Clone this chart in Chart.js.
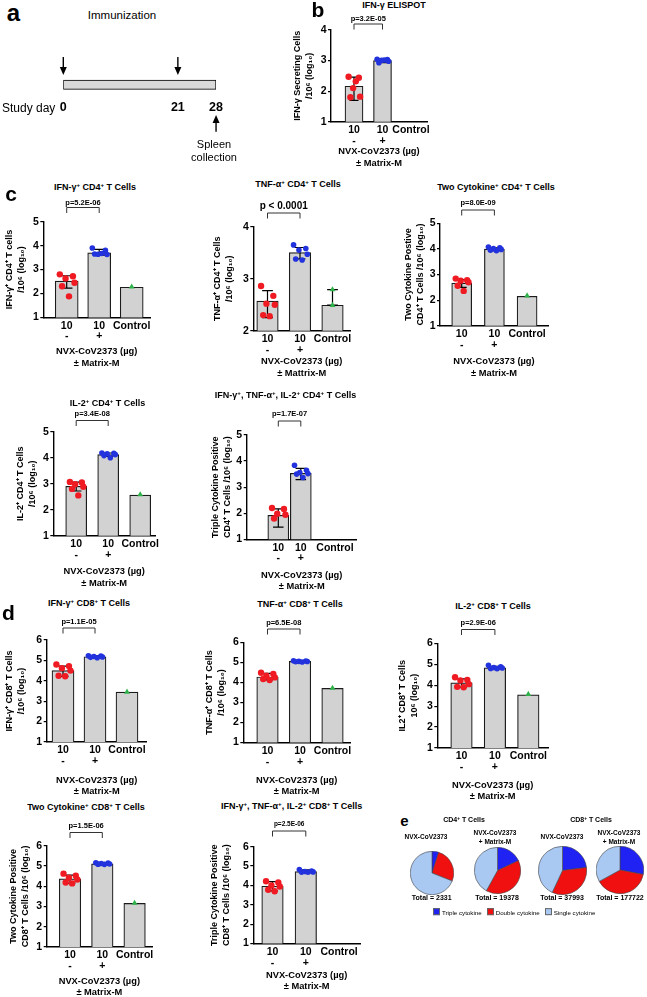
<!DOCTYPE html>
<html>
<head>
<meta charset="utf-8">
<title>NVX-CoV2373 T cell responses</title>
<script src="https://cdn.jsdelivr.net/npm/chart.js@4.4.1/dist/chart.umd.min.js"></script>
<style>
  html, body { margin: 0; padding: 0; background: #fff; }
  body { position: relative; width: 647px; height: 997px; overflow: hidden; font-family: "Liberation Sans", Arial, sans-serif; color: #000; }
  canvas { position: absolute; }
  .t { position: absolute; white-space: nowrap; font-weight: bold; line-height: 1; transform: translate(-50%, -50%); }
  .t sup { font-size: 0.68em; position: relative; top: -0.5em; vertical-align: baseline; line-height: 0; }
  .sq { display: inline-block; width: 5px; height: 5px; margin: 0 2px 0 5px; border: 0.5px solid #666; vertical-align: -0.5px; }
</style>
</head>
<body>
<script>
const FONT = '"Liberation Sans", Arial, sans-serif';
Chart.defaults.font.family = FONT;
Chart.defaults.color = '#000';

// shared group labels
const groupDose = ['10', '10', 'Control'];
const groupAdjuvant = ['-', '+', ''];
const xTitle = ['NVX-CoV2373 (µg)', '± Matrix-M'];

// a: immunization schedule
const studyDays = [0, 21, 28];
const immunizationDays = [0, 21];
const collectionDay = 28;

// b: IFN-γ ELISPOT
const bYTicks = [1, 2, 3, 4];
const bMeans = [2.16, 3.00, null];
const bErr = [[1.70, 2.46], [2.93, 3.06], null];
const bRed = [2.47, 2.44, 2.10, 1.82, 1.80, 2.32];
const bBlue = [3.04, 3.03, 3.01, 2.98, 2.93, 3.02];
const bGreen = [];

// c: CD4+ T cells
const c1YTicks = [1, 2, 3, 4, 5];
const c1Means = [2.52, 3.70, 2.26];
const c1Err = [[2.22, 2.74], [3.60, 3.84], null];
const c1Red = [2.80, 2.72, 2.63, 2.45, 2.30, 1.88];
const c1Blue = [3.90, 3.80, 3.64, 3.63, 3.65, 3.67];
const c1Green = [2.28];

const c2YTicks = [2, 3, 4];
const c2Means = [2.57, 3.50, 2.49];
const c2Err = [[2.25, 2.77], [3.38, 3.60], [2.49, 2.79]];
const c2Red = [2.86, 2.67, 2.52, 2.50, 2.30, 2.28];
const c2Blue = [3.65, 3.58, 3.55, 3.47, 3.38, 3.36];
const c2Green = [2.79, 2.49];

const c3YTicks = [1, 2, 3, 4, 5];
const c3Means = [2.66, 3.99, 2.15];
const c3Err = [[2.50, 2.80], [3.93, 4.04], null];
const c3Red = [2.84, 2.78, 2.76, 2.70, 2.56, 2.36];
const c3Blue = [4.07, 4.04, 4.01, 3.98, 3.95, 3.93];
const c3Green = [2.17];

const c4YTicks = [1, 2, 3, 4, 5];
const c4Means = [2.90, 4.12, 2.56];
const c4Err = [[2.72, 3.06], [4.05, 4.18], null];
const c4Red = [3.07, 3.05, 2.98, 2.88, 2.80, 2.55];
const c4Blue = [4.18, 4.17, 4.15, 4.12, 4.08, 4.00];
const c4Green = [2.58];

const c5YTicks = [1, 2, 3, 4, 5];
const c5Means = [1.92, 3.53, null];
const c5Err = [[1.47, 2.17], [3.29, 3.72], null];
const c5Red = [2.20, 2.16, 1.98, 1.94, 1.80];
const c5Blue = [3.84, 3.65, 3.56, 3.52, 3.50, 3.37];
const c5Green = [];

// d: CD8+ T cells
const d1YTicks = [1, 2, 3, 4, 5, 6];
const d1Means = [4.50, 5.18, 3.45];
const d1Err = [[4.22, 4.72], [5.13, 5.24], null];
const d1Red = [4.80, 4.72, 4.62, 4.50, 4.25, 4.22];
const d1Blue = [5.23, 5.21, 5.19, 5.17, 5.15, 5.13];
const d1Green = [3.45];

const d2YTicks = [1, 2, 3, 4, 5, 6];
const d2Means = [4.27, 5.05, 3.70];
const d2Err = [[4.13, 4.45], [5.02, 5.08], null];
const d2Red = [4.48, 4.42, 4.33, 4.25, 4.17, 4.12];
const d2Blue = [5.08, 5.07, 5.05, 5.04, 5.03, 5.02];
const d2Green = [3.72];

const d3YTicks = [1, 2, 3, 4, 5, 6];
const d3Means = [4.11, 4.83, 3.54];
const d3Err = [[3.90, 4.30], [4.78, 4.90], null];
const d3Red = [4.38, 4.25, 4.22, 4.05, 3.92, 3.90];
const d3Blue = [4.95, 4.88, 4.84, 4.82, 4.80, 4.79];
const d3Green = [3.57];

const d4YTicks = [1, 2, 3, 4, 5, 6];
const d4Means = [4.36, 5.10, 3.15];
const d4Err = [[4.15, 4.55], [5.07, 5.15], null];
const d4Red = [4.62, 4.52, 4.42, 4.33, 4.18, 4.14];
const d4Blue = [5.16, 5.14, 5.12, 5.10, 5.09, 5.08];
const d4Green = [3.17];

const d5YTicks = [1, 2, 3, 4, 5, 6];
const d5Means = [3.96, 4.72, null];
const d5Err = [[3.72, 4.20], [4.66, 4.80], null];
const d5Red = [4.22, 4.15, 4.00, 3.95, 3.78, 3.70];
const d5Blue = [4.82, 4.75, 4.72, 4.70, 4.69, 4.68];
const d5Green = [];

// e: cytokine pies (% of responding cells)
const cytokineKinds = ['Triple cytokine', 'Double cytokine', 'Single cytokine'];
const pieTotals = [2331, 19378, 37993, 177722];
const pieTriple = [5, 18, 23, 28];
const pieDouble = [26, 40, 34, 39];
const pieSingle = [69, 42, 43, 33];

const RED = '#ef1a22';
const BLUE = '#2233dd';
const GREEN = '#2fb24a';
const pieColors = ['#1f22f2', '#f01010', '#a9c8f2'];

function addText(html, x, y, size, opts = {}) {
  const el = document.createElement('div');
  el.className = 't';
  el.innerHTML = html;
  el.style.left = x + 'px';
  el.style.top = y + 'px';
  el.style.fontSize = size + 'px';
  if (opts.normal) el.style.fontWeight = 'normal';
  if (opts.left) el.style.transform = 'translate(0, -50%)';
  document.body.appendChild(el);
  return el;
}

function addCanvas(left, top, w, h) {
  const c = document.createElement('canvas');
  c.width = w;
  c.height = h;
  c.style.left = left + 'px';
  c.style.top = top + 'px';
  c.style.width = w + 'px';
  c.style.height = h + 'px';
  document.body.appendChild(c);
  return c;
}

// error bars between bars and points, p value bracket, x title
const marksPlugin = {
  id: 'marks',
  afterDatasetDraw(chart, args, o) {
    if (args.index !== 0) return;
    const { ctx } = chart;
    const x = chart.scales.x, y = chart.scales.y;
    ctx.save();
    ctx.strokeStyle = '#000';
    ctx.lineWidth = 1.2;
    o.err.forEach((e, i) => {
      if (!e) return;
      const px = x.getPixelForValue(o.slots[i]);
      const lo = y.getPixelForValue(e[0]), hi = y.getPixelForValue(e[1]);
      const hw = o.cap / 2;
      ctx.beginPath();
      ctx.moveTo(px, lo); ctx.lineTo(px, hi);
      ctx.moveTo(px - hw, lo); ctx.lineTo(px + hw, lo);
      ctx.moveTo(px - hw, hi); ctx.lineTo(px + hw, hi);
      ctx.stroke();
    });
    ctx.restore();
  },
  afterDraw(chart, args, o) {
    const { ctx, chartArea } = chart;
    const x = chart.scales.x;
    const x0 = x.getPixelForValue(o.slots[0]), x1 = x.getPixelForValue(o.slots[1]);
    ctx.save();
    ctx.strokeStyle = '#333';
    ctx.lineWidth = 1;
    ctx.beginPath();
    ctx.moveTo(x0, o.brY + 5.5); ctx.lineTo(x0, o.brY); ctx.lineTo(x1, o.brY); ctx.lineTo(x1, o.brY + 5.5);
    ctx.stroke();
    ctx.fillStyle = '#000';
    ctx.textAlign = 'center';
    ctx.textBaseline = 'middle';
    ctx.font = `bold ${o.pFont}px ${FONT}`;
    ctx.fillText(o.p, (x0 + x1) / 2, o.pY);
    ctx.font = `bold 9.3px ${FONT}`;
    const cx = o.xtc != null ? o.xtc : (chartArea.left + chartArea.right) / 2;
    ctx.fillText(o.xTitle[0], cx, o.xtY - 11.5);
    ctx.fillText(o.xTitle[1], cx, o.xtY);
    ctx.restore();
  }
};

function barPanel(P) {
  const L = P.lay;
  const slots = L.slots || [0, 1, 2];
  const yLH = 11.8;
  const yFont = 9;
  const left = Math.floor(L.ytx - 8);
  const top = Math.floor(L.pY - 8);
  const W = L.axisX - left;
  const H = L.matrixY + 6 - L.bottom;
  const width = Math.ceil(L.right + 22 - left);
  const height = Math.ceil(L.matrixY + 6 - top);
  const cv = addCanvas(left, top, width, height);
  const spread = L.barW / L.sp;
  const jit = [-0.3, 0.27, -0.05, 0.34, -0.2, 0.1];
  const pts = (vals, slot, j) => vals.map((v, i) => ({ x: slot + (j ? jit[i % jit.length] * spread : 0), y: v }));
  const bars = [];
  P.means.forEach((m, i) => { if (m !== null) bars.push({ x: slots[i], y: m }); });

  new Chart(cv, {
    type: 'bar',
    data: {
      datasets: [
        { type: 'bar', order: 5, data: bars, backgroundColor: '#d2d2d2', borderColor: '#1b1b1b', borderWidth: 1.2, barThickness: L.barW },
        { type: 'scatter', order: 1, data: pts(P.red, slots[0], true), pointRadius: 3.2, backgroundColor: RED, borderColor: RED, borderWidth: 0 },
        { type: 'scatter', order: 1, data: pts(P.blue, slots[1], true), pointRadius: 2.8, backgroundColor: BLUE, borderColor: BLUE, borderWidth: 0 },
        { type: 'scatter', order: 1, data: pts(P.green, slots[2], false), pointRadius: 3.4, pointStyle: 'triangle', backgroundColor: GREEN, borderColor: GREEN, borderWidth: 0 }
      ]
    },
    options: {
      responsive: false,
      animation: false,
      devicePixelRatio: 1,
      layout: { padding: { left: 0, top: L.top - top, right: width - (L.right - left), bottom: 0 } },
      plugins: {
        legend: { display: false },
        tooltip: { enabled: false },
        marks: {
          slots, err: P.err, cap: L.barW * 0.5, p: P.p, pFont: L.pFont || 7.5,
          pY: L.pY - top, brY: L.brY - top, xTitle: P.xTitle || xTitle,
          xtc: L.xtc != null ? L.xtc - left : null, xtY: L.matrixY - top
        }
      },
      scales: {
        x: {
          type: 'linear', offset: false,
          min: -(L.c0 - L.axisX) / L.sp,
          max: (L.right - L.c0) / L.sp,
          afterBuildTicks: s => { s.ticks = slots.map(v => ({ value: v })); },
          afterFit: s => { s.height = H; },
          grid: { display: false, drawTicks: false, tickLength: 0 },
          border: { display: true, color: '#000', width: 1.4 },
          ticks: {
            autoSkip: false, maxRotation: 0, padding: 3, color: '#000',
            font: { size: 10.5, weight: 'bold', lineHeight: 1.02 },
            callback: (v, i) => [groupDose[i], groupAdjuvant[i]]
          }
        },
        y: {
          min: P.yTicks[0],
          max: P.yTicks[P.yTicks.length - 1],
          afterBuildTicks: s => { s.ticks = P.yTicks.map(v => ({ value: v })); },
          afterFit: s => { s.width = W; },
          grid: { drawOnChartArea: false, drawTicks: true, tickLength: 3, color: '#000', lineWidth: 1.2 },
          border: { display: true, color: '#000', width: 1.4 },
          ticks: { padding: 1.5, color: '#000', font: { size: 10.5, weight: 'bold' } },
          title: {
            display: true, text: P.yTitle, color: '#000',
            font: { size: yFont, weight: 'bold', lineHeight: yLH / yFont },
            padding: { top: L.ytx - left - yLH / 2, bottom: 0 }
          }
        }
      }
    },
    plugins: [marksPlugin]
  });
  addText(P.title, P.tx, P.ty, 9);
}

const panels = [
  { title: 'IFN-γ ELISPOT', tx: 394, ty: 5, p: 'p=3.2E-05',
    yTitle: ['IFN-γ Secreting Cells', '/10⁶ (log₁₀)'], yTicks: bYTicks,
    means: bMeans, err: bErr, red: bRed, blue: bBlue, green: bGreen,
    lay: { ytx: 297.7, axisX: 331, right: 427, top: 30, bottom: 121.7, c0: 354, sp: 28.5, barW: 18, pY: 19, brY: 24, matrixY: 163 } },
  { title: 'IFN-γ<sup>+</sup> CD4<sup>+</sup> T Cells', tx: 95, ty: 187, p: 'p=5.2E-06',
    yTitle: ['IFN-γ⁺ CD4⁺ T cells', '/10⁶ (log₁₀)'], yTicks: c1YTicks,
    means: c1Means, err: c1Err, red: c1Red, blue: c1Blue, green: c1Green,
    lay: { ytx: 10, axisX: 43.3, right: 150, top: 221.7, bottom: 316.7, c0: 66.7, sp: 32.5, barW: 23, pY: 203, brY: 207.5, matrixY: 363.3 } },
  { title: 'TNF-α<sup>+</sup> CD4<sup>+</sup> T Cells', tx: 298, ty: 184, p: 'p < 0.0001',
    yTitle: ['TNF-α⁺ CD4⁺ T Cells', '/10⁶ (log₁₀)'], yTicks: c2YTicks, xTitle: ['NVX-CoV2373 (µg)', '± Mattrix-M'],
    means: c2Means, err: c2Err, red: c2Red, blue: c2Blue, green: c2Green,
    lay: { ytx: 218, axisX: 253.3, right: 350, top: 226.7, bottom: 330, c0: 267.5, sp: 32.5, barW: 21.5, pY: 206.7, brY: 213, matrixY: 373.3, pFont: 10 } },
  { title: 'Two Cytokine<sup>+</sup> CD4<sup>+</sup> T Cells', tx: 496, ty: 187, p: 'p=8.0E-09',
    yTitle: ['Two Cytokine Postive', 'CD4⁺ T Cells /10⁶ (log₁₀)'], yTicks: c3YTicks,
    means: c3Means, err: c3Err, red: c3Red, blue: c3Blue, green: c3Green,
    lay: { ytx: 408.5, axisX: 440, right: 548, top: 223.3, bottom: 325, c0: 461.7, sp: 32.7, barW: 20, pY: 203, brY: 210, matrixY: 373.3 } },
  { title: 'IL-2<sup>+</sup> CD4<sup>+</sup> T Cells', tx: 107.5, ty: 403, p: 'p=3.4E-08',
    yTitle: ['IL-2⁺ CD4⁺ T Cells', '/10⁶ (log₁₀)'], yTicks: c4YTicks,
    means: c4Means, err: c4Err, red: c4Red, blue: c4Blue, green: c4Green,
    lay: { ytx: 21, axisX: 53.3, right: 155, top: 431.7, bottom: 535, c0: 76.2, sp: 32, barW: 21, pY: 414, brY: 420.5, matrixY: 583.3 } },
  { title: 'IFN-γ<sup>+</sup>, TNF-α<sup>+</sup>, IL-2<sup>+</sup> CD4<sup>+</sup> T Cells', tx: 285.5, ty: 395, p: 'p=1.7E-07',
    yTitle: ['Triple Cytokine Positive', 'CD4⁺ T Cells /10⁶ (log₁₀)'], yTicks: c5YTicks,
    means: c5Means, err: c5Err, red: c5Red, blue: c5Blue, green: c5Green,
    lay: { ytx: 215.7, axisX: 246.7, right: 356.7, top: 435, bottom: 539, c0: 278.3, sp: 22.5, slots: [0, 1, 2.52], barW: 21, pY: 414, brY: 421, matrixY: 586.7 } },
  { title: 'IFN-γ<sup>+</sup> CD8<sup>+</sup> T Cells', tx: 89, ty: 603, p: 'p=1.1E-05',
    yTitle: ['IFN-γ⁺ CD8⁺ T Cells', '/10⁶ (log₁₀)'], yTicks: d1YTicks,
    means: d1Means, err: d1Err, red: d1Red, blue: d1Blue, green: d1Green,
    lay: { ytx: 10, axisX: 46.7, right: 146.7, top: 640, bottom: 741.7, c0: 63, sp: 32, barW: 22, pY: 621.7, brY: 628, matrixY: 791.7 } },
  { title: 'TNF-α<sup>+</sup> CD8<sup>+</sup> T Cells', tx: 300, ty: 604, p: 'p=6.5E-08',
    yTitle: ['TNF-α⁺ CD8⁺ T Cells', '/10⁶ (log₁₀)'], yTicks: d2YTicks,
    means: d2Means, err: d2Err, red: d2Red, blue: d2Blue, green: d2Green,
    lay: { ytx: 210, axisX: 243.3, right: 350, top: 642.3, bottom: 742.3, c0: 267.5, sp: 32.5, barW: 21.5, pY: 622.7, brY: 629, matrixY: 791.7 } },
  { title: 'IL-2<sup>+</sup> CD8<sup>+</sup> T Cells', tx: 493, ty: 606, p: 'p=2.9E-06',
    yTitle: ['IL2⁺ CD8⁺ T Cells', '10⁶ (log₁₀)'], yTicks: d3YTicks,
    means: d3Means, err: d3Err, red: d3Red, blue: d3Blue, green: d3Green,
    lay: { ytx: 402.7, axisX: 437.3, right: 548, top: 643.3, bottom: 747.7, c0: 461.5, sp: 33.4, barW: 21.5, pY: 623, brY: 629.5, matrixY: 796.7 } },
  { title: 'Two Cytokine<sup>+</sup> CD8<sup>+</sup> T Cells', tx: 86, ty: 806.7, p: 'p=1.5E-06',
    yTitle: ['Two Cytokine Positive', 'CD8⁺ T Cells /10⁶ (log₁₀)'], yTicks: d4YTicks,
    means: d4Means, err: d4Err, red: d4Red, blue: d4Blue, green: d4Green,
    lay: { ytx: 14, axisX: 46.7, right: 152, top: 845.7, bottom: 946.7, c0: 70, sp: 32.3, barW: 21.5, pY: 826, brY: 832.5, matrixY: 992.7 } },
  { title: 'IFN-γ<sup>+</sup>, TNF-α<sup>+</sup>, IL-2<sup>+</sup> CD8<sup>+</sup> T Cells', tx: 291.7, ty: 806, p: 'p=2.5E-06',
    yTitle: ['Triple Cytokine Positive', 'CD8⁺ T Cells /10⁶ (log₁₀)'], yTicks: d5YTicks,
    means: d5Means, err: d5Err, red: d5Red, blue: d5Blue, green: d5Green,
    lay: { ytx: 215, axisX: 253.3, right: 360, top: 846.7, bottom: 943.3, c0: 272.5, sp: 33.3, barW: 21.5, pY: 824.3, brY: 831, matrixY: 986.7, pFont: 6.5 } }
];

panels.forEach(barPanel);

// panel a: schedule as a floating bar on a day axis
function drawArrow(ctx, x, yFrom, yTo) {
  const dir = Math.sign(yTo - yFrom);
  const head = 8;
  ctx.beginPath();
  ctx.moveTo(x, yFrom);
  ctx.lineTo(x, yTo - dir * head);
  ctx.stroke();
  ctx.beginPath();
  ctx.moveTo(x, yTo);
  ctx.lineTo(x - 3.5, yTo - dir * head);
  ctx.lineTo(x + 3.5, yTo - dir * head);
  ctx.closePath();
  ctx.fill();
}

const arrowPlugin = {
  id: 'arrows',
  afterDraw(chart) {
    const { ctx, chartArea } = chart;
    const x = chart.scales.x;
    ctx.save();
    ctx.fillStyle = '#000';
    ctx.strokeStyle = '#000';
    ctx.lineWidth = 1.4;
    immunizationDays.forEach(d => drawArrow(ctx, x.getPixelForValue(d), chartArea.top - 21, chartArea.top - 3));
    drawArrow(ctx, x.getPixelForValue(collectionDay), chartArea.bottom + 40.4, chartArea.bottom + 23.7);
    ctx.restore();
  }
};

const cvA = addCanvas(0, 50, 232, 92);
new Chart(cvA, {
  type: 'bar',
  data: {
    labels: [''],
    datasets: [{
      data: [[studyDays[0], studyDays[studyDays.length - 1]]],
      backgroundColor: '#d9d9d9', borderColor: '#000', borderWidth: 1,
      borderSkipped: false, barThickness: 9.3
    }]
  },
  options: {
    indexAxis: 'y',
    responsive: false,
    animation: false,
    devicePixelRatio: 1,
    layout: { padding: { left: 63.3, right: 232 - 216.7, top: 28, bottom: 92 - 41.3 - 22 } },
    plugins: { legend: { display: false }, tooltip: { enabled: false } },
    scales: {
      x: {
        type: 'linear', min: studyDays[0], max: studyDays[studyDays.length - 1],
        afterBuildTicks: s => { s.ticks = studyDays.map(v => ({ value: v })); },
        afterFit: s => { s.height = 22; },
        grid: { display: false, drawTicks: false, tickLength: 0 },
        border: { display: false },
        ticks: { autoSkip: false, maxRotation: 0, padding: 9, color: '#000', font: { size: 12.5, weight: 'bold' } }
      },
      y: { display: false }
    }
  },
  plugins: [arrowPlugin]
});

addText('Immunization', 122, 16, 11.5, { normal: true });
addText('Study day', 2, 107.5, 12, { normal: true, left: true });
addText('Spleen', 214, 144, 11, { normal: true });
addText('collection', 214, 156.7, 11, { normal: true });

// panel letters
addText('a', 13.5, 13, 24);
addText('b', 318, 9, 21);
addText('c', 11, 193, 21);
addText('d', 8.5, 612, 21);
addText('e', 404.5, 819.5, 15);

// panel e: pies
const pieLay = [
  { cx: 431.7, cy: 872.5, r: 21 },
  { cx: 497, cy: 870, r: 22.5 },
  { cx: 562, cy: 870, r: 23.5 },
  { cx: 620, cy: 869.5, r: 23 }
];
pieTotals.forEach((tot, i) => {
  const L = pieLay[i];
  const size = Math.ceil(2 * L.r + 2);
  const cv = addCanvas(Math.round(L.cx - size / 2), Math.round(L.cy - size / 2), size, size);
  new Chart(cv, {
    type: 'pie',
    data: {
      labels: cytokineKinds,
      datasets: [{
        data: [pieTriple[i], pieDouble[i], pieSingle[i]],
        backgroundColor: pieColors, borderColor: '#444', borderWidth: 0.6
      }]
    },
    options: {
      responsive: false, animation: false, devicePixelRatio: 1,
      layout: { padding: 0 },
      plugins: { legend: { display: false }, tooltip: { enabled: false } }
    }
  });
  addText('Total = ' + tot, L.cx, 897, 7);
});

addText('CD4<sup>+</sup> T Cells', 464, 819, 7);
addText('CD8<sup>+</sup> T Cells', 591, 819, 7);
addText('NVX-CoV2373', 426, 836.7, 6.5);
addText('NVX-CoV2373', 495, 833, 6.5);
addText('+ Matrix-M', 495, 841.7, 6.5);
addText('NVX-CoV2373', 562, 836.7, 6.5);
addText('NVX-CoV2373', 619, 833, 6.5);
addText('+ Matrix-M', 619, 841.7, 6.5);

addText(cytokineKinds.map((k, i) =>
  `<span class="sq" style="background:${pieColors[i]}"></span>${k}`).join(''), 428, 912, 6.2, { normal: true, left: true });
</script>
</body>
</html>
